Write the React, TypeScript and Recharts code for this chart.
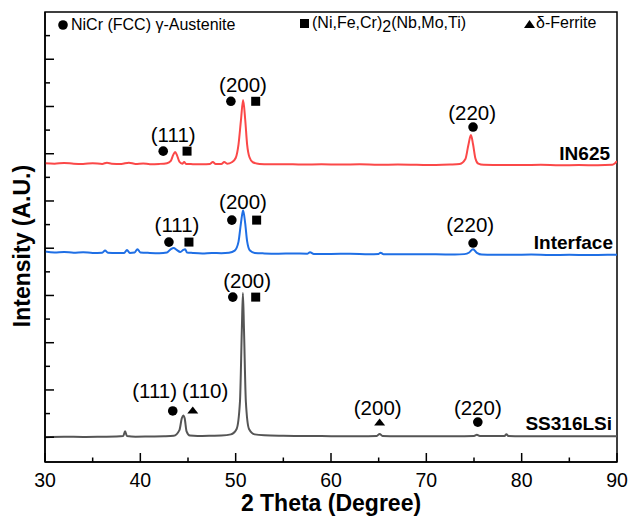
import { LineChart, Line, XAxis, YAxis, ReferenceArea, ReferenceDot, Legend } from 'recharts'

const FONT = '"Liberation Sans", Arial, Helvetica, sans-serif'

// XRD scans: [2θ (deg), intensity (stacked, arb. units)]
const in625Scan: [number, number][] = [
  [30, 11.6], [31, 11.58], [32, 11.61], [33, 11.58], [34, 11.57], [35, 11.6], [36, 11.57], [36.5, 11.62],
  [37, 11.58], [38, 11.57], [38.8, 11.62], [39.5, 11.57], [40.3, 11.59], [41, 11.56], [42, 11.57], [42.8, 11.6],
  [43.2, 11.7], [43.45, 11.95], [43.65, 12.07], [43.85, 11.93], [44.1, 11.66], [44.4, 11.58], [44.6, 11.65],
  [44.8, 11.57], [45.5, 11.56], [46.5, 11.55], [47.3, 11.57], [47.6, 11.65], [47.9, 11.57], [48.5, 11.57],
  [48.8, 11.65], [49.1, 11.58], [49.6, 11.64], [50.0, 11.82], [50.3, 12.4], [50.55, 13.4], [50.78, 14.27],
  [51.0, 13.45], [51.2, 12.4], [51.45, 11.85], [51.8, 11.64], [52.5, 11.57], [53.5, 11.55], [55, 11.56],
  [57, 11.54], [59, 11.55], [61, 11.54], [63, 11.55], [65, 11.53], [67, 11.54], [69, 11.53], [71, 11.52],
  [72.5, 11.54], [73.5, 11.57], [74.1, 11.78], [74.4, 12.35], [74.68, 12.79], [74.9, 12.4], [75.15, 11.8],
  [75.45, 11.58], [76, 11.53], [78, 11.52], [80, 11.52], [82, 11.53], [84, 11.51], [86, 11.52], [88, 11.51],
  [89.5, 11.53], [89.8, 11.6], [90, 11.68],
]

const interfaceScan: [number, number][] = [
  [30, 7.86], [31, 7.82], [32, 7.84], [33, 7.81], [34, 7.83], [35, 7.8], [36, 7.81], [36.3, 7.9], [36.6, 7.81],
  [37.5, 7.8], [38.3, 7.8], [38.6, 7.92], [38.9, 7.8], [39.4, 7.82], [39.7, 7.96], [40, 7.82], [41, 7.8],
  [42, 7.79], [42.8, 7.82], [43.2, 7.96], [43.5, 8.01], [43.8, 7.93], [44.2, 7.84], [44.5, 7.93], [44.7, 7.96],
  [44.9, 7.82], [45.5, 7.8], [46.5, 7.78], [47.5, 7.8], [48.5, 7.79], [49.3, 7.81], [49.9, 7.9], [50.3, 8.28],
  [50.55, 9.05], [50.78, 9.61], [51.0, 9.05], [51.2, 8.3], [51.5, 7.9], [52, 7.8], [53, 7.78], [54.5, 7.77],
  [56, 7.78], [57.5, 7.77], [57.8, 7.83], [58.2, 7.76], [60, 7.76], [62, 7.77], [64, 7.75], [65, 7.76],
  [65.2, 7.81], [65.5, 7.75], [67, 7.75], [69, 7.74], [71, 7.74], [73, 7.73], [74, 7.75], [74.5, 7.82],
  [74.9, 7.96], [75.3, 7.8], [75.8, 7.73], [77, 7.72], [79, 7.72], [81, 7.73], [83, 7.71], [85, 7.72],
  [87, 7.71], [89, 7.72], [90, 7.72],
]

const ss316Scan: [number, number][] = [
  [30, 0.0], [32, 0.02], [34, 0.01], [36, 0.02], [37.5, 0.03], [38.2, 0.05], [38.4, 0.25], [38.6, 0.05],
  [39.5, 0.02], [41, 0.03], [42.5, 0.04], [43.5, 0.06], [44.1, 0.3], [44.35, 0.8], [44.5, 0.92], [44.65, 0.8],
  [44.85, 0.25], [45.2, 0.07], [46, 0.05], [47.5, 0.06], [48.5, 0.07], [49.5, 0.12], [50.1, 0.35], [50.45, 1.5],
  [50.65, 4.6], [50.76, 6.1], [50.87, 4.6], [51.07, 1.5], [51.4, 0.35], [52, 0.12], [53, 0.08], [55, 0.06],
  [57, 0.05], [59, 0.05], [61, 0.04], [63, 0.04], [64.8, 0.05], [65.1, 0.14], [65.4, 0.05], [67, 0.04],
  [69, 0.04], [71, 0.04], [73, 0.04], [75, 0.05], [75.3, 0.1], [75.6, 0.05], [77, 0.05], [78.2, 0.05],
  [78.4, 0.13], [78.6, 0.05], [80, 0.04], [83, 0.04], [86, 0.04], [90, 0.04],
]

const xTicks = [30, 35, 40, 45, 50, 55, 60, 65, 70, 75, 80, 85, 90]
const yTicks = [0, 1, 2, 3, 4, 5, 6, 7, 8, 9, 10, 11, 12, 13, 14, 15, 16, 17]

// Miller-index labels above peaks
const peakLabels = [
  { text: '(111)', theta: 43.45, y: 12.79 },
  { text: '(200)', theta: 50.77, y: 14.9 },
  { text: '(220)', theta: 74.8, y: 13.72 },
  { text: '(111)', theta: 43.85, y: 8.98 },
  { text: '(200)', theta: 50.77, y: 9.95 },
  { text: '(220)', theta: 74.6, y: 8.98 },
  { text: '(200)', theta: 51.2, y: 6.61 },
  { text: '(111)', theta: 41.5, y: 1.95 },
  { text: '(110)', theta: 46.8, y: 1.95 },
  { text: '(200)', theta: 64.9, y: 1.24 },
  { text: '(220)', theta: 75.4, y: 1.24 },
]

// phase markers [2θ, y]
const austeniteMarks: [number, number][] = [
  [42.4, 12.11], [49.5, 14.22], [74.9, 13.13], [43.0, 8.26], [49.6, 9.19], [74.9, 8.22], [49.7, 5.93],
  [43.4, 1.11], [75.4, 0.64],
]
const lavesMarks: [number, number][] = [[44.9, 12.11], [52.1, 14.22], [45.1, 8.26], [52.2, 9.19], [52.1, 5.93]]
const ferriteMarks: [number, number][] = [[45.5, 1.15], [65.1, 0.64]]

const sampleNames = [
  { name: 'IN625', theta: 89.27, y: 12.02 },
  { name: 'Interface', theta: 89.58, y: 8.26 },
  { name: 'SS316LSi', theta: 89.48, y: 0.6 },
]

const toRows = (scan: [number, number][]) => scan.map(([t, i]) => ({ t, i }))

const XTick = (props: any) => {
  const { x, y, payload } = props
  const major = payload.value % 10 === 0
  return (
    <g>
      <line x1={x} x2={x} y1={y} y2={y - (major ? 9 : 4.5)} stroke="#000" strokeWidth={1.5} />
      {major && (
        <text x={x} y={y + 25} textAnchor="middle" fontSize={19.5} fontFamily={FONT} fill="#000">
          {payload.value}
        </text>
      )}
    </g>
  )
}

const YTick = (props: any) => {
  const { x, y, payload } = props
  const long = payload.value % 2 === 0
  return <line x1={x} x2={x + (long ? 9 : 5)} y1={y} y2={y} stroke="#000" strokeWidth={1.5} />
}

const Circle = ({ cx, cy }: any) => <circle cx={cx} cy={cy} r={4.8} fill="#000" />
const Square = ({ cx, cy }: any) => <rect x={cx - 4.5} y={cy - 4.5} width={9} height={9} fill="#000" />
const Triangle = ({ cx, cy }: any) => (
  <polygon points={`${cx - 5.5},${cy + 3.5} ${cx + 5.5},${cy + 3.5} ${cx},${cy - 3.5}`} fill="#000" />
)

const PhaseLegend = () => (
  <div style={{ position: 'relative', width: 629, height: 40, fontFamily: FONT, fontSize: 16, color: '#000' }}>
    <div style={{ position: 'absolute', left: 58, top: 15, whiteSpace: 'nowrap', lineHeight: '20px' }}>
      <svg width={10} height={10} style={{ marginRight: 3 }}><circle cx={5} cy={5} r={4.8} fill="#000" /></svg>
      NiCr (FCC) γ-Austenite
    </div>
    <div style={{ position: 'absolute', left: 300, top: 13, whiteSpace: 'nowrap', lineHeight: '20px' }}>
      <svg width={9} height={9} style={{ marginRight: 3 }}><rect width={9} height={9} fill="#000" /></svg>
      (Ni,Fe,Cr)<span style={{ position: 'relative', top: 4 }}>2</span>(Nb,Mo,Ti)
    </div>
    <div style={{ position: 'absolute', left: 524, top: 13, whiteSpace: 'nowrap', lineHeight: '20px' }}>
      <svg width={11} height={8} style={{ marginRight: 1 }}><polygon points="0,8 11,8 5.5,0" fill="#000" /></svg>
      δ-Ferrite
    </div>
  </div>
)

export default function App() {
  return (
    <div style={{ position: 'absolute', left: 0, top: 0, width: 629, height: 520, background: '#fff' }}>
      <LineChart width={629} height={520} margin={{ top: 12, right: 12, left: 0, bottom: 0 }}>
        <XAxis
          dataKey="t"
          type="number"
          domain={[30, 90]}
          ticks={xTicks}
          interval={0}
          allowDataOverflow
          height={58}
          tickSize={0}
          tickMargin={0}
          tickLine={false}
          tick={XTick}
          axisLine={{ stroke: '#000', strokeWidth: 1.5 }}
          label={{
            content: ({ viewBox }: any) => (
              <text
                x={viewBox.x + viewBox.width / 2}
                y={viewBox.y + 49}
                textAnchor="middle"
                fontSize={23}
                fontWeight="bold"
                fontFamily={FONT}
                fill="#000"
              >
                2 Theta (Degree)
              </text>
            ),
          }}
        />
        <YAxis
          type="number"
          domain={[-1.05, 18]}
          ticks={yTicks}
          interval={0}
          allowDataOverflow
          width={45}
          tickSize={0}
          tickMargin={0}
          tickLine={false}
          tick={YTick}
          axisLine={{ stroke: '#000', strokeWidth: 1.5 }}
          label={{
            content: ({ viewBox }: any) => {
              const cx = viewBox.x + 22
              const cy = viewBox.y + viewBox.height / 2 + 9
              return (
                <text
                  x={cx}
                  y={cy}
                  transform={`rotate(-90 ${cx} ${cy})`}
                  textAnchor="middle"
                  dominantBaseline="central"
                  fontSize={23}
                  fontWeight="bold"
                  fontFamily={FONT}
                  fill="#000"
                >
                  Intensity (A.U.)
                </text>
              )
            },
          }}
        />
        <Legend
          layout="horizontal"
          verticalAlign="middle"
          align="center"
          wrapperStyle={{ left: 0, top: 0, width: 629, height: 40 }}
          content={() => <PhaseLegend />}
        />
        <ReferenceArea x1={30} x2={90} y1={-1.05} y2={18} fill="none" stroke="#000" strokeWidth={1.5} ifOverflow="visible" />
        <Line data={toRows(ss316Scan)} dataKey="i" type="monotone" stroke="#555555" strokeWidth={2} dot={false} isAnimationActive={false} />
        <Line data={toRows(interfaceScan)} dataKey="i" type="monotone" stroke="#1f6fe5" strokeWidth={2} dot={false} isAnimationActive={false} />
        <Line data={toRows(in625Scan)} dataKey="i" type="monotone" stroke="#fb4848" strokeWidth={2} dot={false} isAnimationActive={false} />
        {austeniteMarks.map(([t, y], k) => (
          <ReferenceDot key={`a${k}`} x={t} y={y} shape={Circle} />
        ))}
        {lavesMarks.map(([t, y], k) => (
          <ReferenceDot key={`l${k}`} x={t} y={y} shape={Square} />
        ))}
        {ferriteMarks.map(([t, y], k) => (
          <ReferenceDot key={`f${k}`} x={t} y={y} shape={Triangle} />
        ))}
        {peakLabels.map((p, k) => (
          <ReferenceDot
            key={`p${k}`}
            x={p.theta}
            y={p.y}
            shape={({ cx, cy }: any) => (
              <text x={cx} y={cy} dy="0.35em" textAnchor="middle" fontSize={20.5} fontFamily={FONT} fill="#000">
                {p.text}
              </text>
            )}
          />
        ))}
        {sampleNames.map((s) => (
          <ReferenceDot
            key={s.name}
            x={s.theta}
            y={s.y}
            shape={({ cx, cy }: any) => (
              <text x={cx} y={cy} dy="0.35em" textAnchor="end" fontSize={19} fontWeight="bold" fontFamily={FONT} fill="#000">
                {s.name}
              </text>
            )}
          />
        ))}
      </LineChart>
    </div>
  )
}
